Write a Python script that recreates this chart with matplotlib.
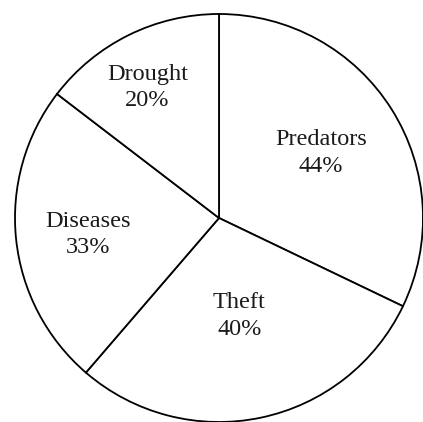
import matplotlib.pyplot as plt

# Causes of livestock loss (share of respondents, %)
causes = ["Predators", "Theft", "Diseases", "Drought"]
shares = [44, 40, 33, 20]

# Label anchor points in units of the pie radius
label_pos = [(0.50, 0.32), (0.10, -0.48), (-0.64, -0.08), (-0.35, 0.64)]

plt.rcParams['font.family'] = ['Liberation Serif', 'DejaVu Serif']

fig = plt.figure(figsize=(4.23, 4.22), dpi=100)
ax = fig.add_axes([0, 0, 1, 1])

wedges, _ = ax.pie(shares, startangle=90, counterclock=False,
                   colors=['white'] * len(shares),
                   wedgeprops=dict(edgecolor='black', linewidth=1.3))

for name, val, (x, y) in zip(causes, shares, label_pos):
    ax.text(x, y, f"{name}\n{val}%", ha='center', va='center',
            fontsize=17.5, color='#1a1a1a', linespacing=1.35)

# pixel layout: centre at (219, 218) from top-left, radius 204 px
r = 204.0
ax.set_xlim(-219 / r, (423 - 219) / r)
ax.set_ylim(-(422 - 218) / r, 218 / r)
ax.set_aspect('auto')
ax.axis('off')

fig.savefig('out.png', dpi=100)
plt.close(fig)
